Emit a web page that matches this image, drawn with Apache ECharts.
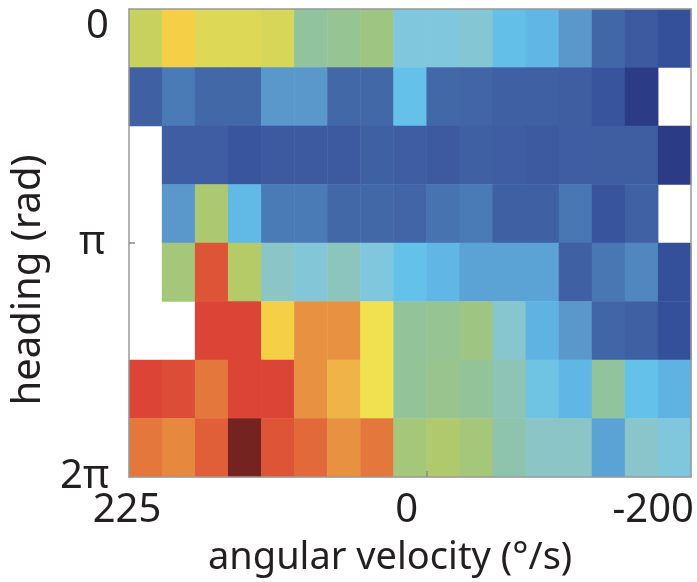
<!DOCTYPE html>
<html>
<head>
<meta charset="utf-8">
<script src="https://cdn.jsdelivr.net/npm/echarts@6/dist/echarts.min.js"></script>
<style>
  html, body { margin: 0; padding: 0; background: #ffffff; }
  #chart { width: 697px; height: 582px; }
</style>
</head>
<body>
<div id="chart"></div>
<script>
// Angular-velocity bins (°/s), 25°/s wide, from +225 down to -200
const velocityBins = [212.5, 187.5, 162.5, 137.5, 112.5, 87.5, 62.5, 37.5, 12.5,
                      -12.5, -37.5, -62.5, -87.5, -112.5, -137.5, -162.5, -187.5];
// Heading bins, top (0) to bottom (2π)
const headingBins = ['h1', 'h2', 'h3', 'h4', 'h5', 'h6', 'h7', 'h8'];

const velocityTicks = [225, 0, -200];
const headingTicks = [0, Math.PI, 2 * Math.PI];
const headingTickLabels = ['0', 'π', '2π'];

// Normalised response per heading bin ('-' = no samples)
const heading1 = [0.64, 0.75, 0.67, 0.67, 0.66, 0.50, 0.52, 0.55, 0.40, 0.40, 0.42, 0.34, 0.31, 0.25, 0.145, 0.10, 0.05];
const heading2 = [0.12, 0.20, 0.15, 0.15, 0.25, 0.25, 0.15, 0.15, 0.35, 0.15, 0.14, 0.12, 0.12, 0.115, 0.07, 0.00, '-'];
const heading3 = ['-', 0.11, 0.11, 0.075, 0.10, 0.10, 0.10, 0.12, 0.11, 0.10, 0.12, 0.11, 0.10, 0.11, 0.115, 0.115, 0.00];
const heading4 = ['-', 0.25, 0.59, 0.32, 0.20, 0.20, 0.15, 0.15, 0.14, 0.18, 0.20, 0.12, 0.12, 0.19, 0.07, 0.13, '-'];
const heading5 = ['-', 0.57, 0.93, 0.61, 0.45, 0.41, 0.46, 0.40, 0.35, 0.31, 0.27, 0.27, 0.27, 0.12, 0.19, 0.22, 0.05];
const heading6 = ['-', '-', 0.95, 0.95, 0.75, 0.84, 0.84, 0.70, 0.51, 0.52, 0.55, 0.43, 0.30, 0.25, 0.14, 0.12, 0.05];
const heading7 = [0.95, 0.94, 0.88, 0.95, 0.95, 0.84, 0.79, 0.70, 0.51, 0.53, 0.51, 0.47, 0.37, 0.31, 0.50, 0.35, 0.30];
const heading8 = [0.88, 0.855, 0.915, 1.00, 0.93, 0.90, 0.84, 0.88, 0.57, 0.60, 0.57, 0.48, 0.45, 0.45, 0.27, 0.44, 0.40];

const rows = [heading1, heading2, heading3, heading4, heading5, heading6, heading7, heading8];

// Colour scale: navy -> blue -> sky -> green -> yellow -> orange -> red -> maroon
const palette = ['#2b3b86', '#34509a', '#3d5aa0', '#4268a8', '#4a7bb6', '#5a98cc', '#5fb3e2',
                 '#64c2ea', '#80c6dc', '#8bc5c6', '#90c39e', '#9fc582', '#afc96c', '#cfd35a',
                 '#f1e150', '#f5d046', '#eeac47', '#e78b40', '#e26a3a', '#dc4535', '#742320'];

const cells = [];
rows.forEach((row, r) => row.forEach((v, c) => cells.push([c, r, v])));

const FONT = 'Noto Sans';
const INK = '#231f20';
const FRAME = { color: '#9a9a9a', width: 1.5 };

const chart = echarts.init(document.getElementById('chart'), null, { renderer: 'canvas' });

chart.setOption({
  animation: false,
  backgroundColor: '#ffffff',
  grid: { left: 129, right: 2, top: 9, bottom: 103, containLabel: false },
  visualMap: {
    show: false, type: 'continuous', min: 0, max: 1, dimension: 2, seriesIndex: 0,
    inRange: { color: palette }
  },
  xAxis: [
    {
      type: 'category', data: velocityBins, position: 'top', z: 5,
      axisLine: { show: true, onZero: false, lineStyle: FRAME },
      axisTick: { show: false }, axisLabel: { show: false }, splitLine: { show: false }
    },
    {
      type: 'value', min: -200, max: 225, inverse: true, position: 'bottom', z: 5,
      axisLine: { show: true, onZero: false, lineStyle: FRAME },
      axisTick: { show: true, inside: true, length: 6, customValues: [0], lineStyle: { color: '#8a8a8a', width: 1.5 } },
      splitLine: { show: false },
      axisLabel: {
        customValues: velocityTicks, margin: 14, color: INK, fontFamily: FONT, fontSize: 40,
        formatter: v => {
          const n = Math.round(v);
          if (n === 0) return '{m|0}';
          if (n < 0) return '{r|' + n + '}';
          return '{l|' + n + '}';
        },
        rich: {
          l: { fontFamily: FONT, fontSize: 40, color: INK, padding: [0, 4, 0, 0] },
          m: { fontFamily: FONT, fontSize: 40, color: INK, padding: [0, 40, 0, 0] },
          r: { fontFamily: FONT, fontSize: 40, color: INK, padding: [0, 76, 0, 0] }
        }
      },
      name: 'angular velocity (°/s)', nameLocation: 'middle', nameGap: 62,
      nameTextStyle: { fontFamily: FONT, fontSize: 38, color: INK, padding: [0, 40, 0, 0] }
    }
  ],
  yAxis: [
    {
      type: 'category', data: headingBins, inverse: true, position: 'right', z: 5,
      axisLine: { show: true, onZero: false, lineStyle: FRAME },
      axisTick: { show: false }, axisLabel: { show: false }, splitLine: { show: false }
    },
    {
      type: 'value', min: 0, max: 2 * Math.PI, inverse: true, position: 'left', z: 5,
      axisLine: { show: true, onZero: false, lineStyle: FRAME },
      axisTick: { show: true, inside: true, length: 6, customValues: [Math.PI], lineStyle: { color: '#8a8a8a', width: 1.5 } },
      splitLine: { show: false },
      axisLabel: {
        customValues: headingTicks, margin: 20, color: INK, fontFamily: FONT, fontSize: 40,
        formatter: v => {
          const i = headingTicks.findIndex(t => Math.abs(t - v) < 1e-6);
          const key = ['t', 'p', 'b'][i];
          return '{' + key + '|' + headingTickLabels[i] + '}';
        },
        rich: {
          t: { fontFamily: FONT, fontSize: 40, color: INK, padding: [36, 0, 0, 0] },
          p: { fontFamily: FONT, fontSize: 40, color: INK, padding: [0, 4, 0, 0] },
          b: { fontFamily: FONT, fontSize: 40, color: INK }
        }
      },
      name: 'heading (rad)', nameLocation: 'middle', nameGap: 61,
      nameTextStyle: { fontFamily: FONT, fontSize: 40, color: INK, padding: [0, 74, 0, 0] }
    }
  ],
  series: [{
    type: 'heatmap', xAxisIndex: 0, yAxisIndex: 0,
    data: cells,
    itemStyle: { borderWidth: 0 },
    emphasis: { disabled: true }
  }]
});
</script>
</body>
</html>
